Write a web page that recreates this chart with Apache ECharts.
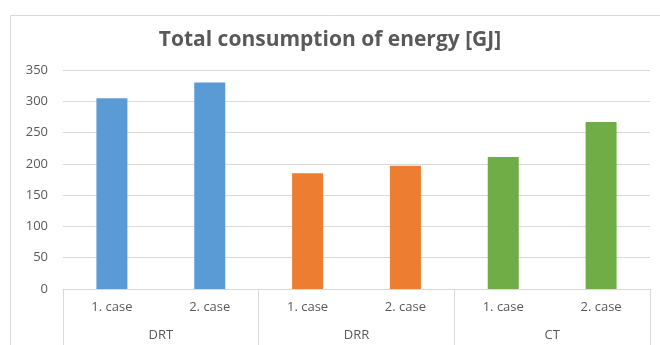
<!DOCTYPE html>
<html>
<head>
<meta charset="utf-8">
<script src="https://cdn.jsdelivr.net/npm/echarts@6/dist/echarts.min.js"></script>
<style>
  html, body { margin: 0; padding: 0; background: #ffffff; }
  #chart { width: 660px; height: 345px; }
</style>
</head>
<body>
<div id="chart"></div>
<script>
// Energy consumption per method and case
const groups = ['DRT', 'DRR', 'CT'];
const cases = ['1. case', '2. case', '1. case', '2. case', '1. case', '2. case'];
const consumption = [305, 330, 185, 197, 211, 267];
const groupColors = ['#5B9BD5', '#ED7D31', '#70AD47'];
const yTicks = { min: 0, max: 350, interval: 50 };

const textColor = '#595959';
const lineColor = '#d9d9d9';
const font = '"Open Sans", Lato, sans-serif';

const chart = echarts.init(document.getElementById('chart'));
chart.setOption({
  animation: false,
  backgroundColor: '#ffffff',
  graphic: [{
    type: 'rect',
    shape: { x: 10.5, y: 15.5, width: 700, height: 400 },
    style: { fill: 'none', stroke: lineColor, lineWidth: 1 },
    silent: true
  }],
  title: {
    text: 'Total consumption of energy [GJ]',
    left: 'center',
    top: 25,
    textStyle: { fontFamily: font, fontSize: 21, fontWeight: 'bold', color: textColor }
  },
  grid: { left: 63, right: 10, top: 70, bottom: 56, containLabel: false },
  xAxis: [{
    type: 'category',
    data: cases,
    position: 'bottom',
    axisLine: { show: true, lineStyle: { color: lineColor } },
    axisTick: { show: false },
    axisLabel: { color: textColor, fontFamily: font, fontSize: 13, margin: 12 }
  }, {
    type: 'category',
    data: groups,
    position: 'bottom',
    axisLine: { show: false },
    axisTick: { show: true, length: 60, interval: 0, lineStyle: { color: lineColor } },
    axisLabel: { color: textColor, fontFamily: font, fontSize: 13, margin: 40 },
    splitLine: { show: false }
  }],
  yAxis: {
    type: 'value',
    min: yTicks.min,
    max: yTicks.max,
    interval: yTicks.interval,
    axisLine: { show: false },
    axisTick: { show: false },
    axisLabel: { color: textColor, fontFamily: font, fontSize: 13, margin: 15 },
    splitLine: { lineStyle: { color: lineColor } }
  },
  series: [{
    type: 'bar',
    xAxisIndex: 0,
    data: consumption,
    barWidth: 31,
    itemStyle: {
      color: p => groupColors[Math.floor(p.dataIndex / 2)]
    }
  }]
});
</script>
</body>
</html>
